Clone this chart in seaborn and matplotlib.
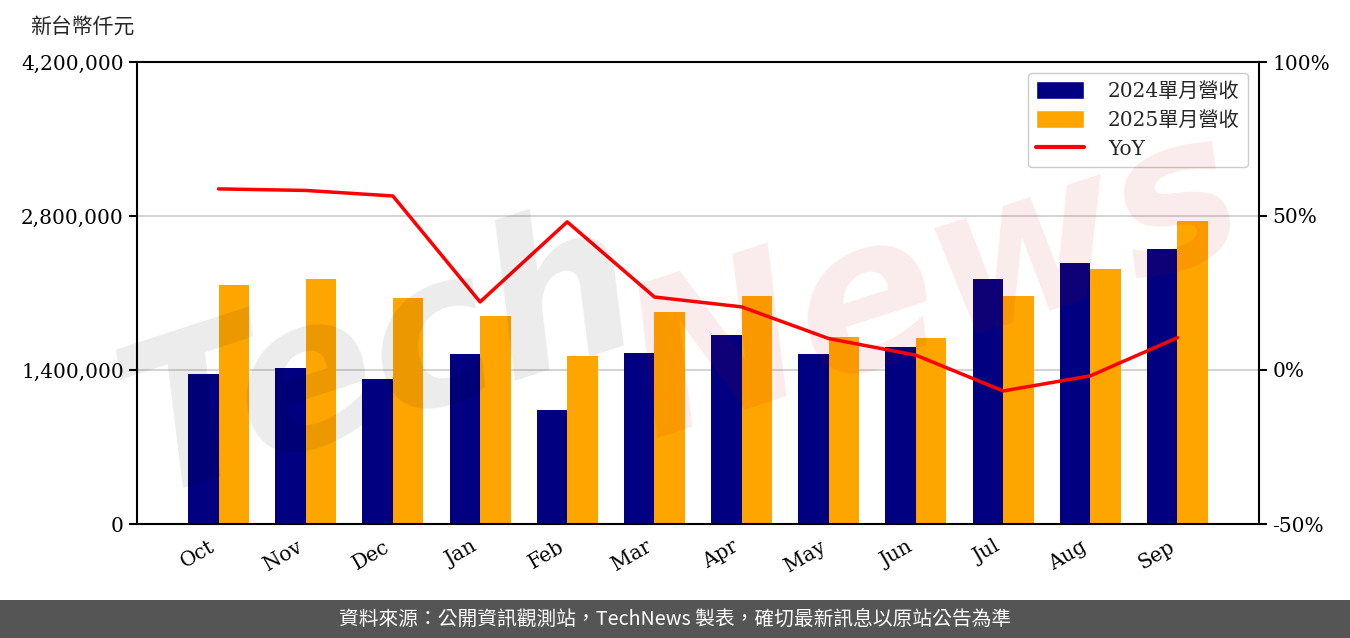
import numpy as np
import pandas as pd
import matplotlib
matplotlib.use("Agg")
import matplotlib.pyplot as plt
import seaborn as sns
from matplotlib.patches import Patch
from matplotlib.lines import Line2D
from matplotlib.ticker import FuncFormatter

months = ["Oct", "Nov", "Dec", "Jan", "Feb", "Mar", "Apr", "May", "Jun", "Jul", "Aug", "Sep"]
rev_2024 = [1368000, 1414000, 1314000, 1549000, 1033000, 1559000, 1722000, 1549000, 1613000, 2229000, 2374000, 2501000]
rev_2025 = [2175000, 2229000, 2057000, 1894000, 1531000, 1930000, 2075000, 1703000, 1694000, 2075000, 2320000, 2755000]
yoy = [58.8, 58.3, 56.5, 22.1, 48.1, 23.7, 20.5, 10.2, 4.8, -6.8, -1.9, 10.5]
series_names = ["2024單月營收", "2025單月營收"]
yoy_name = "YoY"
left_ticks = [0, 1400000, 2800000, 4200000]
right_ticks = [-50, 0, 50, 100]
unit_label = "新台幣仟元"
footer = "資料來源：公開資訊觀測站，TechNews 製表，確切最新訊息以原站公告為準"

sns.set_style("white")
plt.rcParams["font.family"] = ["DejaVu Serif", "Noto Sans CJK TC"]

df = pd.DataFrame({
    "month": months * 2,
    "value": rev_2024 + rev_2025,
    "series": [series_names[0]] * len(months) + [series_names[1]] * len(months),
})

W, H = 1350, 638
fig = plt.figure(figsize=(W / 100, H / 100), dpi=100)
ax = fig.add_axes([137 / W, 1 - 524 / H, (1259 - 137) / W, (524 - 62) / H])

colors = {series_names[0]: "#000080", series_names[1]: "#FFA500"}
sns.barplot(data=df, x="month", y="value", hue="series", order=months,
            hue_order=series_names, palette=colors, width=0.7, gap=0,
            saturation=1, legend=False, ax=ax, zorder=2, linewidth=0, edgecolor="none")
ax.set_xlim(-0.935, len(months) - 1 + 0.935)
ax.set_ylim(0, 4200000)
ax.set_yticks(left_ticks)
ax.yaxis.set_major_formatter(FuncFormatter(lambda v, p: f"{int(v):,}"))
ax.set_xlabel("")
ax.set_ylabel("")
ax.grid(axis="y", color="#d0d0d0", lw=1.3, zorder=0)
ax.set_axisbelow(True)
for s in ax.spines.values():
    s.set_color("black")
    s.set_linewidth(1.5)
ax.tick_params(axis="both", direction="out", length=6, width=1.5, labelsize=14.5, colors="black")
plt.setp(ax.get_xticklabels(), rotation=30, ha="right")

ax2 = ax.twinx()
sns.lineplot(x=np.arange(len(months)), y=yoy, ax=ax2, color="#FF0000", lw=2.5)
ax2.set_ylim(-50, 100)
ax2.set_yticks(right_ticks)
ax2.yaxis.set_major_formatter(FuncFormatter(lambda v, p: f"{int(v)}%"))
ax2.tick_params(axis="y", direction="out", length=6, width=1.5, labelsize=14.5, colors="black")
for s in ax2.spines.values():
    s.set_visible(False)

handles = [Patch(facecolor=colors[series_names[0]]), Patch(facecolor=colors[series_names[1]]),
           Line2D([0], [0], color="#FF0000", lw=3)]
leg = ax2.legend(handles, series_names + [yoy_name], loc="upper right", fontsize=14.5,
                 frameon=True, fancybox=True, edgecolor="#cccccc", framealpha=1,
                 handlelength=2.4, handleheight=1.0, handletextpad=1.2, borderaxespad=0.55,
                 labelspacing=0.45)

fig.text(30 / W, 1 - 27 / H, unit_label, fontsize=15, va="center", ha="left")

# watermark
fig.text(380 / W, 1 - 360 / H, "Tech", fontsize=150, fontweight="bold", style="italic",
         family="DejaVu Sans", color="black", alpha=0.08, rotation=18, ha="center", va="center")
fig.text(935 / W, 1 - 285 / H, "News", fontsize=150, fontweight="bold", style="italic",
         family="DejaVu Sans", color="#C80000", alpha=0.08, rotation=18, ha="center", va="center")

fig.patches.append(plt.Rectangle((0, 0), 1, 38 / H, transform=fig.transFigure,
                                 facecolor="#555555", edgecolor="none", zorder=5))
fig.text(0.5, 19 / H, footer, fontsize=14.2, color="white", ha="center", va="center",
         family=["Noto Sans CJK TC", "DejaVu Sans"], zorder=6)

fig.savefig("out.png", dpi=100, facecolor="white")
